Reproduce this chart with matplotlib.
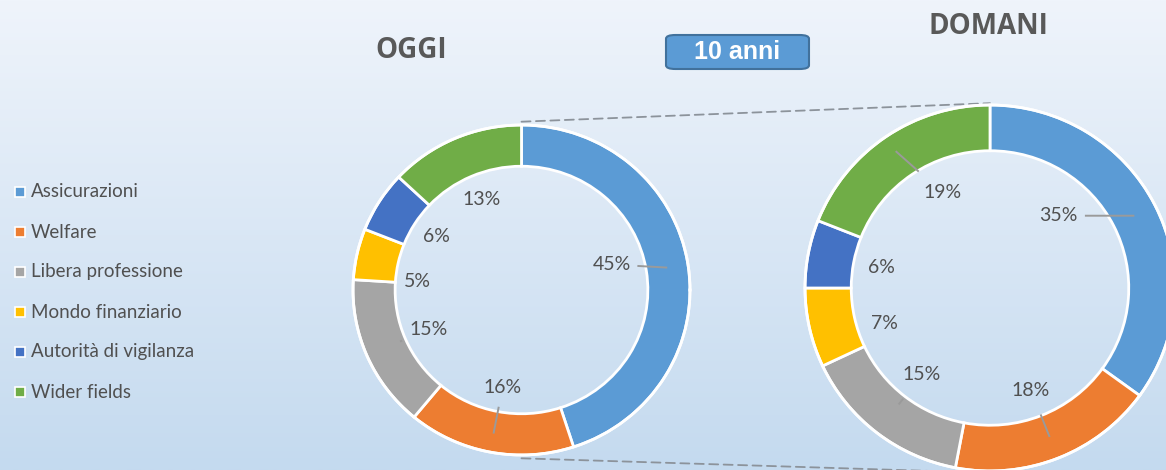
import matplotlib.pyplot as plt
import numpy as np
from matplotlib.patches import FancyBboxPatch, Rectangle, ConnectionPatch

categories = ['Assicurazioni', 'Welfare', 'Libera professione',
              'Mondo finanziario', 'Autorità di vigilanza', 'Wider fields']
oggi = [45, 16, 15, 5, 6, 13]
domani = [35, 18, 15, 7, 6, 19]
colors = ['#5B9BD5', '#ED7D31', '#A5A5A5', '#FFC000', '#4472C4', '#70AD47']

W, H = 1166, 470
TXT = '#505050'
plt.rcParams['font.family'] = ['Lato', 'DejaVu Sans']

fig = plt.figure(figsize=(W / 100, H / 100), dpi=100)

# background gradient
bg = fig.add_axes([0, 0, 1, 1], zorder=0)
top = np.array([0xEF, 0xF4, 0xFB]) / 255
bot = np.array([0xC4, 0xDA, 0xEF]) / 255
t = np.linspace(0, 1, 256)[:, None]
grad = top[None, :] * (1 - t) + bot[None, :] * t
bg.imshow(grad[:, None, :], aspect='auto', extent=[0, 1, 0, 1])
bg.set_xlim(0, 1)
bg.set_ylim(0, 1)
bg.axis('off')


def px_axes(cx, cy, rx, ry):
    return fig.add_axes([(cx - rx) / W, (H - cy - ry) / H, 2 * rx / W, 2 * ry / H], zorder=2)


def donut(ax, values, lines, nudge):
    # nudge: {index: (angle shift in degrees, label radius)}
    wedges, _ = ax.pie(values, colors=colors, startangle=90, counterclock=False,
                       wedgeprops=dict(width=0.25, edgecolor='white', linewidth=2))
    ax.set_aspect('auto')
    ax.set_xlim(-1, 1)
    ax.set_ylim(-1, 1)
    ax.axis('off')
    for w in wedges:
        w.set_clip_on(False)
    # white outer rim
    th = np.linspace(0, 2 * np.pi, 400)
    ax.plot(np.cos(th), np.sin(th), color='white', lw=2, clip_on=False)
    total = float(sum(values))
    start = 0.0
    for i, v in enumerate(values):
        a_mid = np.radians(start + v / total * 180.0)
        start += v / total * 360.0
        shift, r_lab = nudge.get(i, (0, 0.6))
        a_lab = a_mid + np.radians(shift)
        lx, ly = r_lab * np.sin(a_lab), r_lab * np.cos(a_lab)
        ax.text(lx, ly, f'{v}%', ha='center', va='center', fontsize=14, color=TXT)
        if i in lines:
            rr = lines[i]
            px, py = rr * np.sin(a_mid), rr * np.cos(a_mid)
            d = np.array([px - lx, py - ly])
            d = d / np.hypot(*d)
            s = 0.15 * abs(d[0]) + 0.1 * abs(d[1])
            ax.plot([lx + d[0] * s, px], [ly + d[1] * s, py], color='#9A9A9A', lw=1.4)
    return wedges


axL = px_axes(521.5, 290, 168.5, 165)
axR = px_axes(990, 288, 185, 183)
donut(axL, oggi, lines={0: 0.87, 1: 0.88, 2: 0.78},
      nudge={0: (-7, 0.56), 3: (-8, 0.62)})
donut(axR, domani, lines={0: 0.87, 1: 0.87, 2: 0.8, 5: 0.9},
      nudge={0: (-20, 0.54), 5: (8, 0.58), 3: (-6, 0.6)})

# dashed connectors between the two donuts
for y in (1, -1):
    con = ConnectionPatch(xyA=(0, y * 1.02), coordsA=axL.transData,
                          xyB=(0, y * 1.01), coordsB=axR.transData,
                          color='#8C939B', lw=1.3, linestyle=(0, (5, 3)), zorder=1)
    bg.add_artist(con)

# titles
fig.text(411 / W, 1 - 50 / H, 'OGGI', ha='center', va='center', fontsize=20,
         fontweight='bold', color='#595959', family=['Open Sans', 'DejaVu Sans'])
fig.text(988 / W, 1 - 26 / H, 'DOMANI', ha='center', va='center', fontsize=20,
         fontweight='bold', color='#595959', family=['Open Sans', 'DejaVu Sans'])

# "10 anni" box
box = FancyBboxPatch((666 / W, 1 - 69 / H), 143 / W, 34 / H,
                     boxstyle='round,pad=0,rounding_size=0.008', transform=fig.transFigure,
                     facecolor='#5B9BD5', edgecolor='#41719C', lw=1.5, zorder=3)
fig.add_artist(box)
fig.text(737 / W, 1 - 52 / H, '10 anni', ha='center', va='center', fontsize=18,
         fontweight='bold', color='white', zorder=4, fontstretch='condensed',
         family=['Liberation Sans Narrow', 'Liberation Sans', 'DejaVu Sans'])

# legend
for i, (cat, c) in enumerate(zip(categories, colors)):
    y = 192 + 40 * i
    fig.add_artist(Rectangle((15 / W, 1 - (y + 5) / H), 10 / W, 10 / H,
                             transform=fig.transFigure, facecolor=c,
                             edgecolor='white', lw=1.2, zorder=3))
    fig.text(31 / W, 1 - y / H, cat, ha='left', va='center', fontsize=13.5, color=TXT)

plt.savefig('out.png', dpi=100)
